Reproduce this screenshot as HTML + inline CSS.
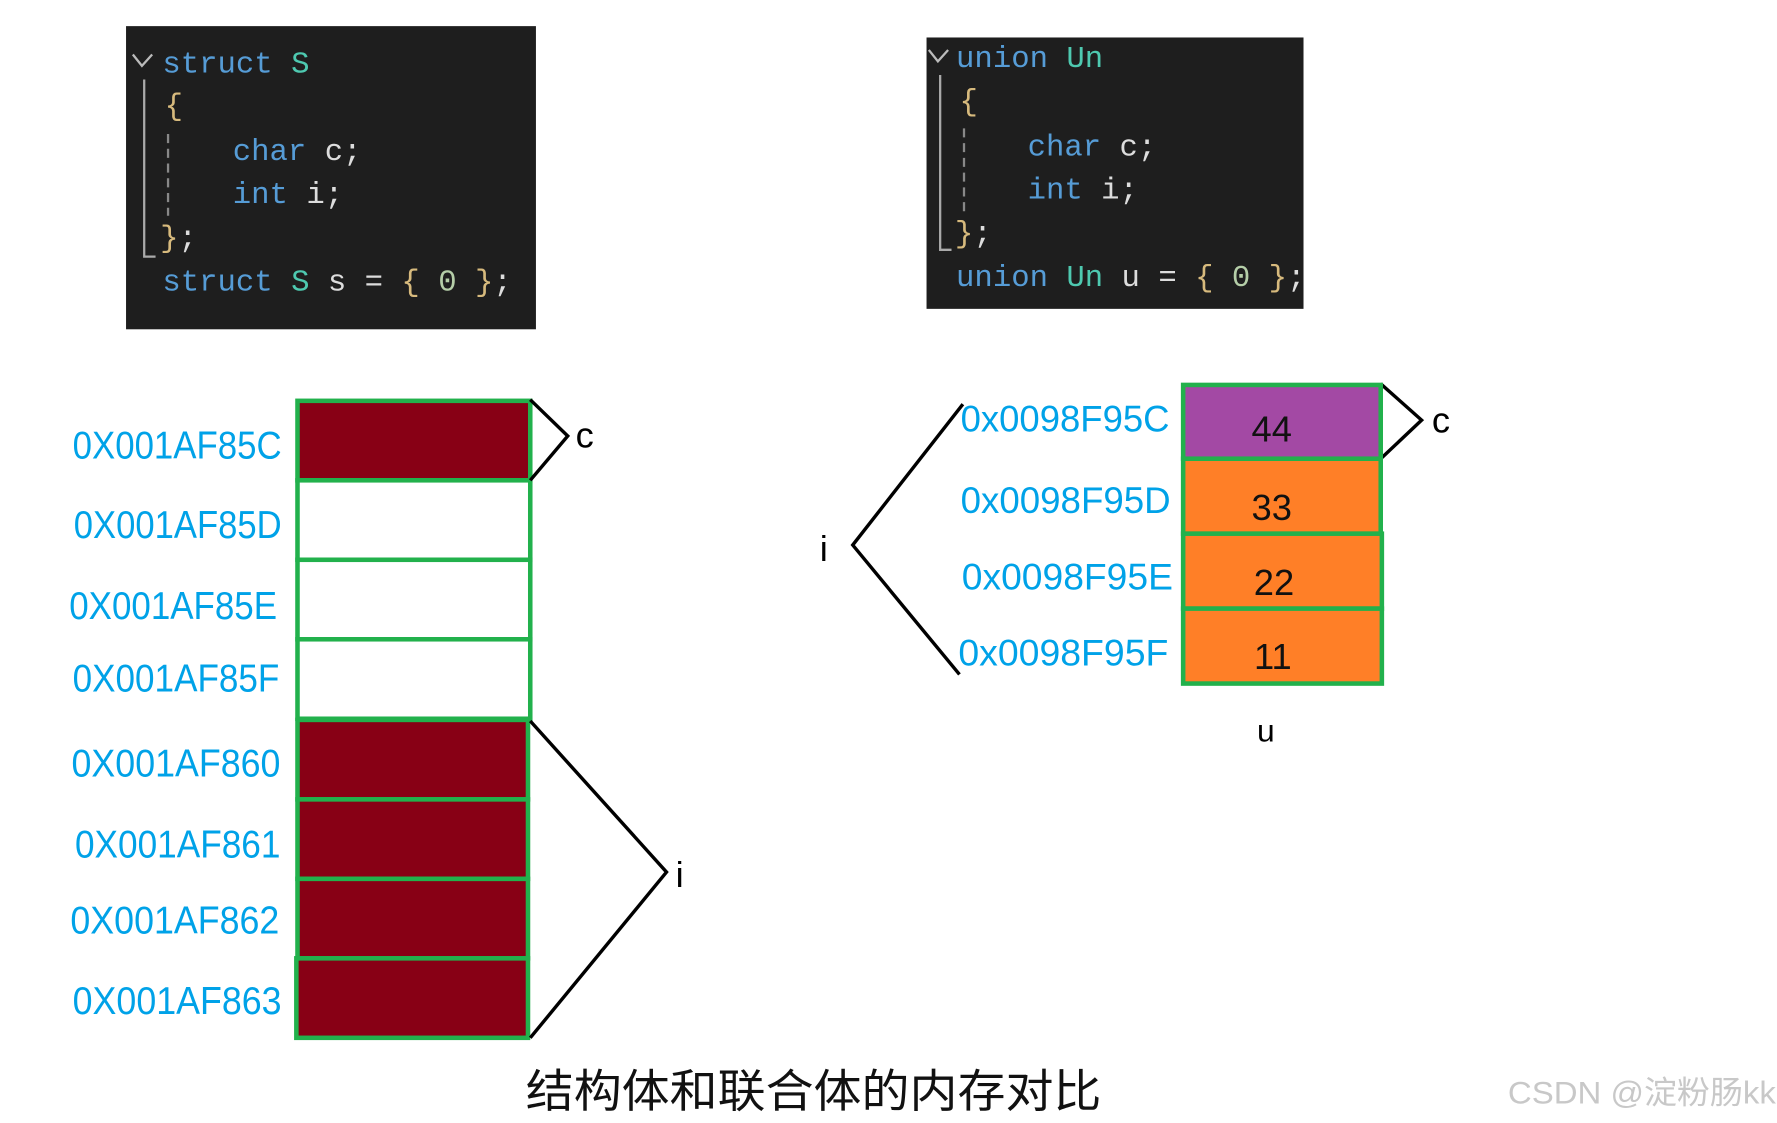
<!DOCTYPE html>
<html><head><meta charset="utf-8"><style>html,body{margin:0;padding:0;background:#fff;overflow:hidden}</style></head>
<body>
<svg width="1777" height="1118" viewBox="0 0 1565 984.6" xmlns="http://www.w3.org/2000/svg">
<rect width="1565" height="985" fill="#fff"/>
<!-- struct code box -->
<rect x="111" y="23" width="361" height="267" fill="#1e1e1e"/>
<g font-family="'Liberation Mono','Noto Serif CJK SC',monospace" font-size="27">
<path d="M117 48 L125 58 L134 48" stroke="#bbb" stroke-width="2" fill="none"/>
<path d="M127 70 V226 H137" stroke="#aaa" stroke-width="2" fill="none"/>
<line x1="148" y1="118" x2="148" y2="190" stroke="#888" stroke-width="2" stroke-dasharray="8,5"/>
<text x="143" y="64"><tspan fill="#569cd6">struct</tspan> <tspan fill="#4ec9b0">S</tspan></text>
<text x="145" y="101" fill="#d7ba7d">{</text>
<text x="205" y="141"><tspan fill="#569cd6">char</tspan> <tspan fill="#ddd">c;</tspan></text>
<text x="205" y="179"><tspan fill="#569cd6">int</tspan> <tspan fill="#ddd">i;</tspan></text>
<text x="141" y="217" fill="#d7ba7d">}<tspan fill="#ddd">;</tspan></text>
<text x="143" y="256"><tspan fill="#569cd6">struct</tspan> <tspan fill="#4ec9b0">S</tspan> <tspan fill="#ddd">s =</tspan> <tspan fill="#d7ba7d">{</tspan> <tspan fill="#b5cea8">0</tspan> <tspan fill="#d7ba7d">}</tspan><tspan fill="#ddd">;</tspan></text>
</g>
<!-- union code box -->
<rect x="816" y="33" width="332" height="239" fill="#1e1e1e"/>
<g font-family="'Liberation Mono','Noto Serif CJK SC',monospace" font-size="27">
<path d="M818 44 L826 54 L835 44" stroke="#bbb" stroke-width="2" fill="none"/>
<path d="M828 66 V220 H838" stroke="#aaa" stroke-width="2" fill="none"/>
<line x1="849" y1="113" x2="849" y2="186" stroke="#888" stroke-width="2" stroke-dasharray="8,5"/>
<text x="842" y="59"><tspan fill="#569cd6">union</tspan> <tspan fill="#4ec9b0">Un</tspan></text>
<text x="845" y="97" fill="#d7ba7d">{</text>
<text x="905" y="137"><tspan fill="#569cd6">char</tspan> <tspan fill="#ddd">c;</tspan></text>
<text x="905" y="175"><tspan fill="#569cd6">int</tspan> <tspan fill="#ddd">i;</tspan></text>
<text x="841" y="213" fill="#d7ba7d">}<tspan fill="#ddd">;</tspan></text>
<text x="842" y="252"><tspan fill="#569cd6">union</tspan> <tspan fill="#4ec9b0">Un</tspan> <tspan fill="#ddd">u =</tspan> <tspan fill="#d7ba7d">{</tspan> <tspan fill="#b5cea8">0</tspan> <tspan fill="#d7ba7d">}</tspan><tspan fill="#ddd">;</tspan></text>
</g>
<!-- left memory -->
<g stroke="#22b14c" stroke-width="4">
<rect x="262" y="353" width="205" height="70" fill="#880015"/>
<rect x="262" y="423" width="205" height="70" fill="#fff"/>
<rect x="262" y="493" width="205" height="70" fill="#fff"/>
<rect x="262" y="563" width="205" height="70" fill="#fff"/>
<rect x="262" y="634" width="203" height="70" fill="#880015"/>
<rect x="262" y="704" width="203" height="70" fill="#880015"/>
<rect x="262" y="774" width="203" height="70" fill="#880015"/>
<rect x="261" y="844" width="204" height="70" fill="#880015"/>
</g>
<g font-family="'Liberation Sans',sans-serif" font-size="34" fill="#00a2e8">
<text x="64" y="404" textLength="184" lengthAdjust="spacingAndGlyphs">0X001AF85C</text>
<text x="65" y="474" textLength="183" lengthAdjust="spacingAndGlyphs">0X001AF85D</text>
<text x="61" y="545" textLength="183" lengthAdjust="spacingAndGlyphs">0X001AF85E</text>
<text x="64" y="609" textLength="182" lengthAdjust="spacingAndGlyphs">0X001AF85F</text>
<text x="63" y="684" textLength="184" lengthAdjust="spacingAndGlyphs">0X001AF860</text>
<text x="66" y="755" textLength="181" lengthAdjust="spacingAndGlyphs">0X001AF861</text>
<text x="62" y="822" textLength="184" lengthAdjust="spacingAndGlyphs">0X001AF862</text>
<text x="64" y="893" textLength="184" lengthAdjust="spacingAndGlyphs">0X001AF863</text>
</g>
<g stroke="#000" stroke-width="3" fill="none">
<path d="M467 352 L500 384 L467 423"/>
<path d="M467 635 L587 768 L467 914"/>
<path d="M1216 338 L1252 370 L1216 404"/>
<path d="M848 356 L751 480 L845 594"/>
</g>
<g font-family="'Liberation Sans',sans-serif" font-size="32" fill="#000">
<text x="507" y="394">c</text>
<text x="595" y="781">i</text>
<text x="1261" y="381">c</text>
<text x="722" y="494">i</text>
<text x="1107" y="653" font-size="28">u</text>
</g>
<!-- right memory -->
<g stroke="#22b14c" stroke-width="4">
<rect x="1042" y="339" width="174" height="65" fill="#a349a4"/>
<rect x="1042" y="404" width="174" height="66" fill="#ff7f27"/>
<rect x="1042" y="470" width="175" height="66" fill="#ff7f27"/>
<rect x="1042" y="536" width="175" height="66" fill="#ff7f27"/>
</g>
<g font-family="'Liberation Sans',sans-serif" font-size="32" fill="#111" text-anchor="middle">
<text x="1120" y="389">44</text>
<text x="1120" y="458">33</text>
<text x="1122" y="524">22</text>
<text x="1121" y="589">11</text>
</g>
<g font-family="'Liberation Sans',sans-serif" font-size="33" fill="#00a2e8">
<text x="846" y="380" textLength="184" lengthAdjust="spacingAndGlyphs">0x0098F95C</text>
<text x="846" y="452" textLength="185" lengthAdjust="spacingAndGlyphs">0x0098F95D</text>
<text x="847" y="519" textLength="186" lengthAdjust="spacingAndGlyphs">0x0098F95E</text>
<text x="844" y="586" textLength="185" lengthAdjust="spacingAndGlyphs">0x0098F95F</text>
</g>
<text x="463" y="975" font-family="'Liberation Sans','Noto Sans CJK SC',sans-serif" font-size="40" fill="#111" textLength="507" lengthAdjust="spacingAndGlyphs">结构体和联合体的内存对比</text>
<text x="1328" y="972" font-family="'Liberation Sans','Noto Sans CJK SC',sans-serif" font-size="28" fill="#c8c8c8" textLength="236" lengthAdjust="spacingAndGlyphs">CSDN @淀粉肠kk</text>
</svg>
</body></html>
